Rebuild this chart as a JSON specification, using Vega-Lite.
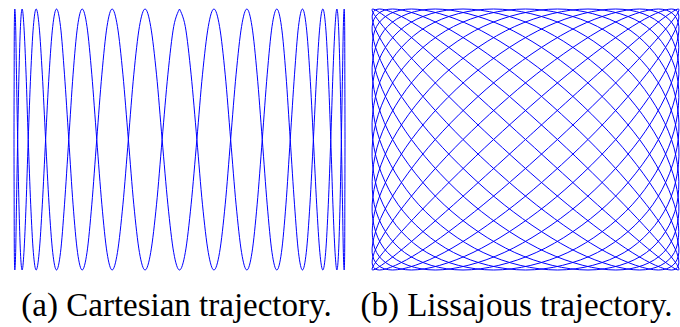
{
  "$schema": "https://vega.github.io/schema/vega-lite/v6.json",
  "padding": {"left": 12, "top": 7, "right": 3, "bottom": 0},
  "spacing": 27,
  "bounds": "flush",
  "config": {
    "font": "serif",
    "view": {"stroke": null},
    "title": {"font": "Times New Roman, Times, Liberation Serif, serif", "fontSize": 33, "fontWeight": "normal", "color": "#000000", "orient": "bottom", "baseline": "top", "offset": 18}
  },
  "hconcat": [
    {
      "width": 331,
      "height": 261,
      "title": {"text": "(a) Cartesian trajectory.", "dx": -3},
      "data": {"values": [
        {"k":0,"x":0,"y":1},{"k":1,"x":0.035,"y":0.866},{"k":2,"x":0.07,"y":0.5},{"k":3,"x":0.105,"y":0},{"k":4,"x":0.139,"y":-0.5},{"k":5,"x":0.174,"y":-0.866},{"k":6,"x":0.208,"y":-1},{"k":7,"x":0.242,"y":-0.866},{"k":8,"x":0.276,"y":-0.5},{"k":9,"x":0.309,"y":0},{"k":10,"x":0.342,"y":0.5},{"k":11,"x":0.375,"y":0.866},
        {"k":12,"x":0.407,"y":1},{"k":13,"x":0.438,"y":0.866},{"k":14,"x":0.469,"y":0.5},{"k":15,"x":0.5,"y":0},{"k":16,"x":0.53,"y":-0.5},{"k":17,"x":0.559,"y":-0.866},{"k":18,"x":0.588,"y":-1},{"k":19,"x":0.616,"y":-0.866},{"k":20,"x":0.643,"y":-0.5},{"k":21,"x":0.669,"y":0},{"k":22,"x":0.695,"y":0.5},{"k":23,"x":0.719,"y":0.866},
        {"k":24,"x":0.743,"y":1},{"k":25,"x":0.766,"y":0.866},{"k":26,"x":0.788,"y":0.5},{"k":27,"x":0.809,"y":0},{"k":28,"x":0.829,"y":-0.5},{"k":29,"x":0.848,"y":-0.866},{"k":30,"x":0.866,"y":-1},{"k":31,"x":0.883,"y":-0.866},{"k":32,"x":0.899,"y":-0.5},{"k":33,"x":0.914,"y":0},{"k":34,"x":0.927,"y":0.5},{"k":35,"x":0.94,"y":0.866},
        {"k":36,"x":0.951,"y":1},{"k":37,"x":0.961,"y":0.866},{"k":38,"x":0.97,"y":0.5},{"k":39,"x":0.978,"y":0},{"k":40,"x":0.985,"y":-0.5},{"k":41,"x":0.99,"y":-0.866},{"k":42,"x":0.995,"y":-1},{"k":43,"x":0.998,"y":-0.866},{"k":44,"x":0.999,"y":-0.5},{"k":45,"x":1,"y":0},{"k":46,"x":0.999,"y":0.5},{"k":47,"x":0.998,"y":0.866},
        {"k":48,"x":0.995,"y":1},{"k":49,"x":0.99,"y":0.866},{"k":50,"x":0.985,"y":0.5},{"k":51,"x":0.978,"y":0},{"k":52,"x":0.97,"y":-0.5},{"k":53,"x":0.961,"y":-0.866},{"k":54,"x":0.951,"y":-1},{"k":55,"x":0.94,"y":-0.866},{"k":56,"x":0.927,"y":-0.5},{"k":57,"x":0.914,"y":0},{"k":58,"x":0.899,"y":0.5},{"k":59,"x":0.883,"y":0.866},
        {"k":60,"x":0.866,"y":1},{"k":61,"x":0.848,"y":0.866},{"k":62,"x":0.829,"y":0.5},{"k":63,"x":0.809,"y":0},{"k":64,"x":0.788,"y":-0.5},{"k":65,"x":0.766,"y":-0.866},{"k":66,"x":0.743,"y":-1},{"k":67,"x":0.719,"y":-0.866},{"k":68,"x":0.695,"y":-0.5},{"k":69,"x":0.669,"y":0},{"k":70,"x":0.643,"y":0.5},{"k":71,"x":0.616,"y":0.866},
        {"k":72,"x":0.588,"y":1},{"k":73,"x":0.559,"y":0.866},{"k":74,"x":0.53,"y":0.5},{"k":75,"x":0.5,"y":0},{"k":76,"x":0.469,"y":-0.5},{"k":77,"x":0.438,"y":-0.866},{"k":78,"x":0.407,"y":-1},{"k":79,"x":0.375,"y":-0.866},{"k":80,"x":0.342,"y":-0.5},{"k":81,"x":0.309,"y":0},{"k":82,"x":0.276,"y":0.5},{"k":83,"x":0.242,"y":0.866},
        {"k":84,"x":0.208,"y":1},{"k":85,"x":0.174,"y":0.866},{"k":86,"x":0.139,"y":0.5},{"k":87,"x":0.105,"y":0},{"k":88,"x":0.07,"y":-0.5},{"k":89,"x":0.035,"y":-0.866},{"k":90,"x":0,"y":-1},{"k":91,"x":-0.035,"y":-0.866},{"k":92,"x":-0.07,"y":-0.5},{"k":93,"x":-0.105,"y":0},{"k":94,"x":-0.139,"y":0.5},{"k":95,"x":-0.174,"y":0.866},
        {"k":96,"x":-0.208,"y":1},{"k":97,"x":-0.242,"y":0.866},{"k":98,"x":-0.276,"y":0.5},{"k":99,"x":-0.309,"y":0},{"k":100,"x":-0.342,"y":-0.5},{"k":101,"x":-0.375,"y":-0.866},{"k":102,"x":-0.407,"y":-1},{"k":103,"x":-0.438,"y":-0.866},{"k":104,"x":-0.469,"y":-0.5},{"k":105,"x":-0.5,"y":0},{"k":106,"x":-0.53,"y":0.5},{"k":107,"x":-0.559,"y":0.866},
        {"k":108,"x":-0.588,"y":1},{"k":109,"x":-0.616,"y":0.866},{"k":110,"x":-0.643,"y":0.5},{"k":111,"x":-0.669,"y":0},{"k":112,"x":-0.695,"y":-0.5},{"k":113,"x":-0.719,"y":-0.866},{"k":114,"x":-0.743,"y":-1},{"k":115,"x":-0.766,"y":-0.866},{"k":116,"x":-0.788,"y":-0.5},{"k":117,"x":-0.809,"y":0},{"k":118,"x":-0.829,"y":0.5},{"k":119,"x":-0.848,"y":0.866},
        {"k":120,"x":-0.866,"y":1},{"k":121,"x":-0.883,"y":0.866},{"k":122,"x":-0.899,"y":0.5},{"k":123,"x":-0.914,"y":0},{"k":124,"x":-0.927,"y":-0.5},{"k":125,"x":-0.94,"y":-0.866},{"k":126,"x":-0.951,"y":-1},{"k":127,"x":-0.961,"y":-0.866},{"k":128,"x":-0.97,"y":-0.5},{"k":129,"x":-0.978,"y":0},{"k":130,"x":-0.985,"y":0.5},{"k":131,"x":-0.99,"y":0.866},
        {"k":132,"x":-0.995,"y":1},{"k":133,"x":-0.998,"y":0.866},{"k":134,"x":-0.999,"y":0.5},{"k":135,"x":-1,"y":0},{"k":136,"x":-0.999,"y":-0.5},{"k":137,"x":-0.998,"y":-0.866},{"k":138,"x":-0.995,"y":-1},{"k":139,"x":-0.99,"y":-0.866},{"k":140,"x":-0.985,"y":-0.5},{"k":141,"x":-0.978,"y":0},{"k":142,"x":-0.97,"y":0.5},{"k":143,"x":-0.961,"y":0.866},
        {"k":144,"x":-0.951,"y":1},{"k":145,"x":-0.94,"y":0.866},{"k":146,"x":-0.927,"y":0.5},{"k":147,"x":-0.914,"y":0},{"k":148,"x":-0.899,"y":-0.5},{"k":149,"x":-0.883,"y":-0.866},{"k":150,"x":-0.866,"y":-1},{"k":151,"x":-0.848,"y":-0.866},{"k":152,"x":-0.829,"y":-0.5},{"k":153,"x":-0.809,"y":0},{"k":154,"x":-0.788,"y":0.5},{"k":155,"x":-0.766,"y":0.866},
        {"k":156,"x":-0.743,"y":1},{"k":157,"x":-0.719,"y":0.866},{"k":158,"x":-0.695,"y":0.5},{"k":159,"x":-0.669,"y":0},{"k":160,"x":-0.643,"y":-0.5},{"k":161,"x":-0.616,"y":-0.866},{"k":162,"x":-0.588,"y":-1},{"k":163,"x":-0.559,"y":-0.866},{"k":164,"x":-0.53,"y":-0.5},{"k":165,"x":-0.5,"y":0},{"k":166,"x":-0.469,"y":0.5},{"k":167,"x":-0.438,"y":0.866},
        {"k":168,"x":-0.407,"y":1},{"k":169,"x":-0.375,"y":0.866},{"k":170,"x":-0.342,"y":0.5},{"k":171,"x":-0.309,"y":0},{"k":172,"x":-0.276,"y":-0.5},{"k":173,"x":-0.242,"y":-0.866},{"k":174,"x":-0.208,"y":-1},{"k":175,"x":-0.174,"y":-0.866},{"k":176,"x":-0.139,"y":-0.5},{"k":177,"x":-0.105,"y":0},{"k":178,"x":-0.07,"y":0.5},{"k":179,"x":-0.035,"y":0.866},
        {"k":180,"x":0,"y":1}
      ]},
      "mark": {"type": "line", "interpolate": "cardinal", "color": "#0000ff", "strokeWidth": 1},
      "encoding": {
        "x": {"field": "x", "type": "quantitative", "scale": {"domain": [-1, 1], "nice": false, "zero": false}, "axis": null},
        "y": {"field": "y", "type": "quantitative", "scale": {"domain": [-1, 1], "nice": false, "zero": false}, "axis": null},
        "order": {"field": "k", "type": "quantitative"}
      }
    },
    {
      "width": 307,
      "height": 261,
      "title": {"text": "(b) Lissajous trajectory.", "dx": -9},
      "data": {"values": [
        {"k":0,"x":0,"y":0},{"k":1,"x":0.469,"y":0.5},{"k":2,"x":0.829,"y":0.866},{"k":3,"x":0.995,"y":1},{"k":4,"x":0.927,"y":0.866},{"k":5,"x":0.643,"y":0.5},{"k":6,"x":0.208,"y":0},{"k":7,"x":-0.276,"y":-0.5},{"k":8,"x":-0.695,"y":-0.866},{"k":9,"x":-0.951,"y":-1},{"k":10,"x":-0.985,"y":-0.866},{"k":11,"x":-0.788,"y":-0.5},
        {"k":12,"x":-0.407,"y":0},{"k":13,"x":0.07,"y":0.5},{"k":14,"x":0.53,"y":0.866},{"k":15,"x":0.866,"y":1},{"k":16,"x":0.999,"y":0.866},{"k":17,"x":0.899,"y":0.5},{"k":18,"x":0.588,"y":0},{"k":19,"x":0.139,"y":-0.5},{"k":20,"x":-0.342,"y":-0.866},{"k":21,"x":-0.743,"y":-1},{"k":22,"x":-0.97,"y":-0.866},{"k":23,"x":-0.97,"y":-0.5},
        {"k":24,"x":-0.743,"y":0},{"k":25,"x":-0.342,"y":0.5},{"k":26,"x":0.139,"y":0.866},{"k":27,"x":0.588,"y":1},{"k":28,"x":0.899,"y":0.866},{"k":29,"x":0.999,"y":0.5},{"k":30,"x":0.866,"y":0},{"k":31,"x":0.53,"y":-0.5},{"k":32,"x":0.07,"y":-0.866},{"k":33,"x":-0.407,"y":-1},{"k":34,"x":-0.788,"y":-0.866},{"k":35,"x":-0.985,"y":-0.5},
        {"k":36,"x":-0.951,"y":0},{"k":37,"x":-0.695,"y":0.5},{"k":38,"x":-0.276,"y":0.866},{"k":39,"x":0.208,"y":1},{"k":40,"x":0.643,"y":0.866},{"k":41,"x":0.927,"y":0.5},{"k":42,"x":0.995,"y":0},{"k":43,"x":0.829,"y":-0.5},{"k":44,"x":0.469,"y":-0.866},{"k":45,"x":0,"y":-1},{"k":46,"x":-0.469,"y":-0.866},{"k":47,"x":-0.829,"y":-0.5},
        {"k":48,"x":-0.995,"y":0},{"k":49,"x":-0.927,"y":0.5},{"k":50,"x":-0.643,"y":0.866},{"k":51,"x":-0.208,"y":1},{"k":52,"x":0.276,"y":0.866},{"k":53,"x":0.695,"y":0.5},{"k":54,"x":0.951,"y":0},{"k":55,"x":0.985,"y":-0.5},{"k":56,"x":0.788,"y":-0.866},{"k":57,"x":0.407,"y":-1},{"k":58,"x":-0.07,"y":-0.866},{"k":59,"x":-0.53,"y":-0.5},
        {"k":60,"x":-0.866,"y":0},{"k":61,"x":-0.999,"y":0.5},{"k":62,"x":-0.899,"y":0.866},{"k":63,"x":-0.588,"y":1},{"k":64,"x":-0.139,"y":0.866},{"k":65,"x":0.342,"y":0.5},{"k":66,"x":0.743,"y":0},{"k":67,"x":0.97,"y":-0.5},{"k":68,"x":0.97,"y":-0.866},{"k":69,"x":0.743,"y":-1},{"k":70,"x":0.342,"y":-0.866},{"k":71,"x":-0.139,"y":-0.5},
        {"k":72,"x":-0.588,"y":0},{"k":73,"x":-0.899,"y":0.5},{"k":74,"x":-0.999,"y":0.866},{"k":75,"x":-0.866,"y":1},{"k":76,"x":-0.53,"y":0.866},{"k":77,"x":-0.07,"y":0.5},{"k":78,"x":0.407,"y":0},{"k":79,"x":0.788,"y":-0.5},{"k":80,"x":0.985,"y":-0.866},{"k":81,"x":0.951,"y":-1},{"k":82,"x":0.695,"y":-0.866},{"k":83,"x":0.276,"y":-0.5},
        {"k":84,"x":-0.208,"y":0},{"k":85,"x":-0.643,"y":0.5},{"k":86,"x":-0.927,"y":0.866},{"k":87,"x":-0.995,"y":1},{"k":88,"x":-0.829,"y":0.866},{"k":89,"x":-0.469,"y":0.5},{"k":90,"x":0,"y":0},{"k":91,"x":0.469,"y":-0.5},{"k":92,"x":0.829,"y":-0.866},{"k":93,"x":0.995,"y":-1},{"k":94,"x":0.927,"y":-0.866},{"k":95,"x":0.643,"y":-0.5},
        {"k":96,"x":0.208,"y":0},{"k":97,"x":-0.276,"y":0.5},{"k":98,"x":-0.695,"y":0.866},{"k":99,"x":-0.951,"y":1},{"k":100,"x":-0.985,"y":0.866},{"k":101,"x":-0.788,"y":0.5},{"k":102,"x":-0.407,"y":0},{"k":103,"x":0.07,"y":-0.5},{"k":104,"x":0.53,"y":-0.866},{"k":105,"x":0.866,"y":-1},{"k":106,"x":0.999,"y":-0.866},{"k":107,"x":0.899,"y":-0.5},
        {"k":108,"x":0.588,"y":0},{"k":109,"x":0.139,"y":0.5},{"k":110,"x":-0.342,"y":0.866},{"k":111,"x":-0.743,"y":1},{"k":112,"x":-0.97,"y":0.866},{"k":113,"x":-0.97,"y":0.5},{"k":114,"x":-0.743,"y":0},{"k":115,"x":-0.342,"y":-0.5},{"k":116,"x":0.139,"y":-0.866},{"k":117,"x":0.588,"y":-1},{"k":118,"x":0.899,"y":-0.866},{"k":119,"x":0.999,"y":-0.5},
        {"k":120,"x":0.866,"y":0},{"k":121,"x":0.53,"y":0.5},{"k":122,"x":0.07,"y":0.866},{"k":123,"x":-0.407,"y":1},{"k":124,"x":-0.788,"y":0.866},{"k":125,"x":-0.985,"y":0.5},{"k":126,"x":-0.951,"y":0},{"k":127,"x":-0.695,"y":-0.5},{"k":128,"x":-0.276,"y":-0.866},{"k":129,"x":0.208,"y":-1},{"k":130,"x":0.643,"y":-0.866},{"k":131,"x":0.927,"y":-0.5},
        {"k":132,"x":0.995,"y":0},{"k":133,"x":0.829,"y":0.5},{"k":134,"x":0.469,"y":0.866},{"k":135,"x":0,"y":1},{"k":136,"x":-0.469,"y":0.866},{"k":137,"x":-0.829,"y":0.5},{"k":138,"x":-0.995,"y":0},{"k":139,"x":-0.927,"y":-0.5},{"k":140,"x":-0.643,"y":-0.866},{"k":141,"x":-0.208,"y":-1},{"k":142,"x":0.276,"y":-0.866},{"k":143,"x":0.695,"y":-0.5},
        {"k":144,"x":0.951,"y":0},{"k":145,"x":0.985,"y":0.5},{"k":146,"x":0.788,"y":0.866},{"k":147,"x":0.407,"y":1},{"k":148,"x":-0.07,"y":0.866},{"k":149,"x":-0.53,"y":0.5},{"k":150,"x":-0.866,"y":0},{"k":151,"x":-0.999,"y":-0.5},{"k":152,"x":-0.899,"y":-0.866},{"k":153,"x":-0.588,"y":-1},{"k":154,"x":-0.139,"y":-0.866},{"k":155,"x":0.342,"y":-0.5},
        {"k":156,"x":0.743,"y":0},{"k":157,"x":0.97,"y":0.5},{"k":158,"x":0.97,"y":0.866},{"k":159,"x":0.743,"y":1},{"k":160,"x":0.342,"y":0.866},{"k":161,"x":-0.139,"y":0.5},{"k":162,"x":-0.588,"y":0},{"k":163,"x":-0.899,"y":-0.5},{"k":164,"x":-0.999,"y":-0.866},{"k":165,"x":-0.866,"y":-1},{"k":166,"x":-0.53,"y":-0.866},{"k":167,"x":-0.07,"y":-0.5},
        {"k":168,"x":0.407,"y":0},{"k":169,"x":0.788,"y":0.5},{"k":170,"x":0.985,"y":0.866},{"k":171,"x":0.951,"y":1},{"k":172,"x":0.695,"y":0.866},{"k":173,"x":0.276,"y":0.5},{"k":174,"x":-0.208,"y":0},{"k":175,"x":-0.643,"y":-0.5},{"k":176,"x":-0.927,"y":-0.866},{"k":177,"x":-0.995,"y":-1},{"k":178,"x":-0.829,"y":-0.866},{"k":179,"x":-0.469,"y":-0.5},
        {"k":180,"x":0,"y":0}
      ]},
      "mark": {"type": "line", "interpolate": "cardinal", "color": "#0000ff", "strokeWidth": 1},
      "encoding": {
        "x": {"field": "x", "type": "quantitative", "scale": {"domain": [-1, 1], "nice": false, "zero": false}, "axis": null},
        "y": {"field": "y", "type": "quantitative", "scale": {"domain": [-1, 1], "nice": false, "zero": false}, "axis": null},
        "order": {"field": "k", "type": "quantitative"}
      }
    }
  ]
}
